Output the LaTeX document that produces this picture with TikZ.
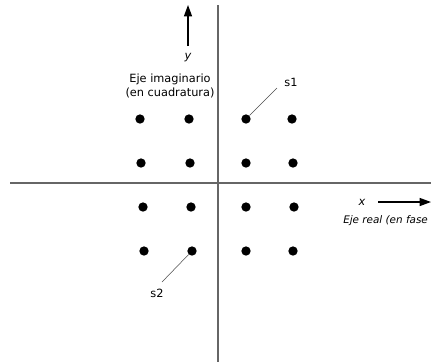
\documentclass[tikz,border=0pt]{standalone}
\usepackage{fontspec}
\setmainfont{DejaVu Sans}
\usetikzlibrary{arrows.meta,positioning}
\tikzset{
  axis/.style    = {draw=black!60, line width=1.1pt},
  pt/.style      = {fill, circle, inner sep=0pt, minimum size=7pt},
  leader/.style  = {draw=black!70, line width=0.4pt},
  dirarrow/.style= {-{Triangle[length=8.5pt,width=6pt]}, line width=0.9pt},
  lbl/.style     = {font=\fontsize{8.5}{10}\selectfont, inner sep=0pt},
  ilbl/.style    = {lbl, font=\itshape\fontsize{8.5}{10}\selectfont},
}
\begin{document}
\begin{tikzpicture}[x=0.75pt,y=-0.75pt]
\useasboundingbox (0,0) rectangle (431,362);
% axes
\coordinate (Vt) at (218,5);   \coordinate (Vb) at (218,362);
\coordinate (Hl) at (10,183);  \coordinate (Hr) at (431,183);
\draw[axis] (Vt) -- (Vb);
\draw[axis] (Hl) -- (Hr);
% constellation points
\foreach \name/\px/\py in {a1/140/119, a2/189/119, a3/246/119, a4/292/119,
                          b1/141/163, b2/190/163, b3/246/163, b4/293/163,
                          c1/143/207, c2/191/207, c3/246/207, c4/294/207,
                          d1/144/251, d2/192/251, d3/246/251, d4/293/251}
  \node[pt] (\name) at (\px,\py) {};
% imaginary axis label
\coordinate (Yb) at (188,46);  \coordinate (Yt) at (188,5);
\draw[dirarrow] (Yb) -- (Yt);
\node[ilbl] (ylab) at (188,58) {y};
\node[lbl, align=center] (imag) at (170,86) {Eje imaginario\\(en cuadratura)};
% real axis label
\node[ilbl] (xlab) at (362,202) {x};
\coordinate (Xl) at (378,202); \coordinate (Xr) at (431,202);
\draw[dirarrow] (Xl) -- (Xr);
\node[ilbl, font=\itshape\fontsize{7.8}{9}\selectfont, anchor=west] (real) at (343,221) {Eje real (en fase};
% symbol labels
\node[lbl] (s1) at (291,82) {s1};
\coordinate (s1end) at (277,88);
\draw[leader] (a3) -- (s1end);
\node[lbl] (s2) at (157,293) {s2};
\coordinate (s2end) at (162,282);
\draw[leader] (d2) -- (s2end);
\end{tikzpicture}
\end{document}
